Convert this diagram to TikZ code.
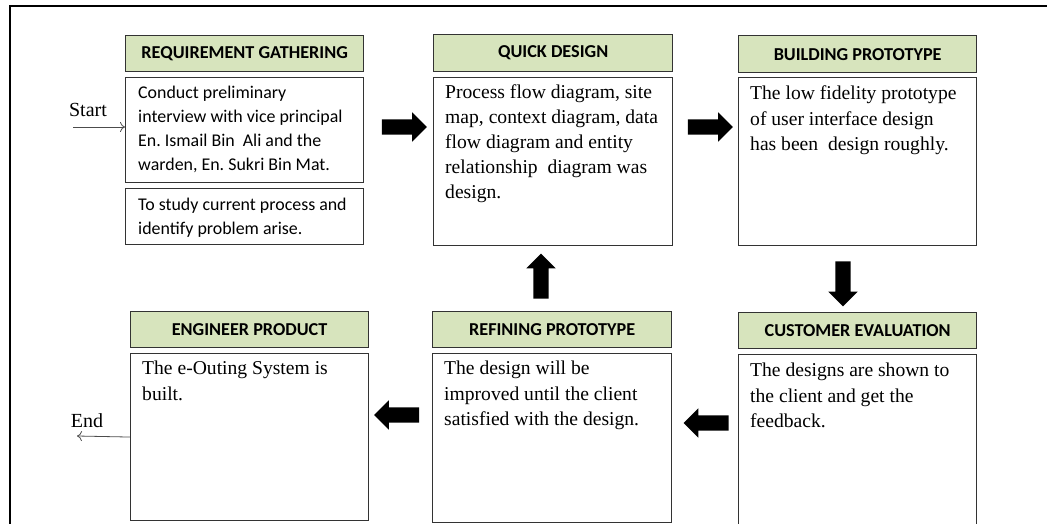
\documentclass[tikz,border=0pt]{standalone}
\usepackage{fontspec}
\setmainfont{Liberation Serif}
\newfontfamily\califont{Carlito}
\usepackage{tikz}
\usetikzlibrary{shapes.arrows, arrows.meta}
\usepackage{xcolor}
\definecolor{hdrgreen}{HTML}{D7E4BD}
\definecolor{boxline}{HTML}{333333}
\frenchspacing

\begin{document}
\begin{tikzpicture}[x = 1pt, y = -1pt,
	hdr/.style = {draw = boxline, fill = hdrgreen, line width = 1.3pt, inner sep = 0pt, anchor = north west,
		font = \califont\bfseries\fontsize{18.2}{20}\selectfont},
	stagebox/.style = {draw = boxline, line width = 1.1pt, inner sep = 0pt, anchor = north west, minimum width = 238},
	bodycal/.style = {anchor = north west, inner sep = 0pt, align = left, font = \califont\fontsize{17.9}{24}\selectfont},
	bodyrom/.style = {anchor = north west, inner sep = 0pt, align = left, font = \fontsize{19.6}{25.2}\selectfont},
	fatarrow/.style = {single arrow, fill = black, draw = none, inner xsep = 0pt, inner ysep = 7.5pt,
		minimum height = 45, single arrow head extend = 7pt, single arrow tip angle = 90},
	thinarrow/.style = {draw = black!70, line width = 0.8pt, -{To[length = 5pt, width = 10pt]}}]
	\useasboundingbox (0, 0) rectangle (1047, 524);
	\draw[line width = 2.8pt] (10, 540) -- (10, 6) -- (1060, 6);

	\node[hdr, minimum width = 238, minimum height = 36] (rghdr) at (125, 35) {REQUIREMENT GATHERING};
	\node[stagebox, minimum height = 105] (rgbox) at (125, 77) {};
	\node[stagebox, minimum height = 56] (rgsub) at (125, 188) {};
	\node[bodycal] (rgtxt) at (138, 86) {Conduct preliminary\\interview with vice principal\\En. Ismail Bin\ \ Ali and the\\warden, En. Sukri Bin Mat.};
	\node[bodycal] (rgsubtxt) at (138, 198) {To study current process and\\identify problem arise.};

	\node[hdr, minimum width = 239, minimum height = 37] (qdhdr) at (433, 34) {QUICK DESIGN};
	\node[stagebox, minimum width = 239, minimum height = 168] (qdbox) at (433, 77) {};
	\node[bodyrom] (qdtxt) at (445, 84) {Process flow diagram, site\\map, context diagram, data\\flow diagram and entity\\relationship\ \ diagram was\\design.};

	\node[hdr, minimum width = 238, minimum height = 37] (bphdr) at (738, 35) {BUILDING PROTOTYPE};
	\node[stagebox, minimum height = 168] (bpbox) at (738, 77) {};
	\node[bodyrom] (bptxt) at (750, 86) {The low fidelity prototype\\of user interface design\\has been\ \ design roughly.};

	\node[hdr, minimum width = 238, minimum height = 36] (cehdr) at (738, 312) {CUSTOMER EVALUATION};
	\node[stagebox, minimum height = 170] (cebox) at (738, 354) {};
	\node[bodyrom] (cetxt) at (750, 363) {The designs are shown to\\the client and get the\\feedback.};

	\node[hdr, minimum width = 239, minimum height = 36] (rphdr) at (432, 311) {REFINING PROTOTYPE};
	\node[stagebox, minimum width = 239, minimum height = 169] (rpbox) at (432, 353) {};
	\node[bodyrom] (rptxt) at (444, 361) {The design will be\\improved until the client\\satisfied with the design.};

	\node[hdr, minimum width = 238, minimum height = 36] (ephdr) at (130, 311) {ENGINEER PRODUCT};
	\node[stagebox, minimum height = 167] (epbox) at (130, 353) {};
	\node[bodyrom] (eptxt) at (142, 361) {The e-Outing System is\\built.};

	\node[fatarrow] (arone) at (400.5, 127) {};
	\node[fatarrow] (artwo) at (706.5, 127) {};
	\node[fatarrow, rotate = -90] (arthree) at (843, 280) {};
	\node[fatarrow, rotate = 180] (arfour) at (710, 423) {};
	\node[fatarrow, rotate = 180] (arfive) at (400.5, 415) {};
	\node[fatarrow, rotate = 90] (arsix) at (541, 280) {};

	\coordinate (startpt) at (73, 127);
	\coordinate (endpt) at (77, 436);
	\node[anchor = base, font = \fontsize{20}{22}\selectfont] (startlbl) at (88, 117) {Start};
	\node[anchor = base, font = \fontsize{20}{22}\selectfont] (endlbl) at (87, 427) {End};
	\draw[thinarrow] (startpt) -- (startpt -| rgbox.west);
	\draw[thinarrow] (epbox.west) -- (endpt);
\end{tikzpicture}
\end{document}
